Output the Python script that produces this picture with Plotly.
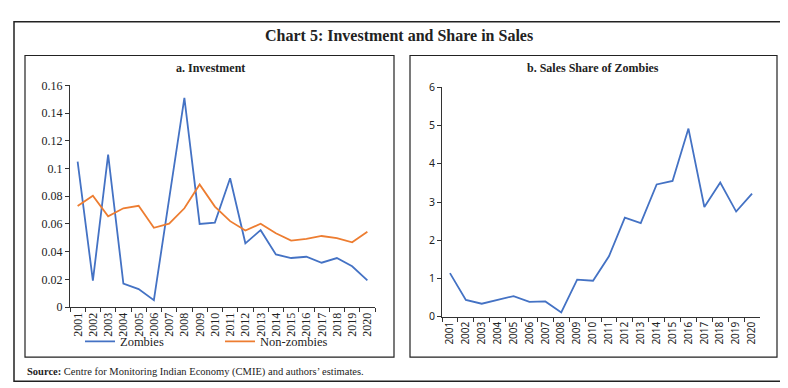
import plotly.graph_objects as go

years = [str(y) for y in range(2001, 2021)]
zombies_inv = [0.105, 0.019, 0.110, 0.017, 0.013, 0.005, 0.078, 0.151, 0.060, 0.061,
               0.093, 0.046, 0.0555, 0.038, 0.0354, 0.0363, 0.032, 0.0354, 0.0294, 0.0193]
nonzombies_inv = [0.0729, 0.0803, 0.0655, 0.0713, 0.0731, 0.0572, 0.0602, 0.0713, 0.0885, 0.0725,
                  0.062, 0.0552, 0.0602, 0.0533, 0.048, 0.0492, 0.0513, 0.0497, 0.0467, 0.0543]
sales_share = [1.14, 0.44, 0.34, 0.45, 0.54, 0.39, 0.40, 0.11, 0.97, 0.94,
               1.58, 2.59, 2.45, 3.46, 3.55, 4.92, 2.87, 3.51, 2.75, 3.22]
left_yticks = [0, 0.02, 0.04, 0.06, 0.08, 0.1, 0.12, 0.14, 0.16]
left_yticktext = ["0", "0.02", "0.04", "0.06", "0.08", "0.1", "0.12", "0.14", "0.16"]
right_yticks = [0, 1, 2, 3, 4, 5, 6]

W, H = 788, 388
def px(x): return x / W
def py(y): return 1 - y / H

BLUE = "#4472C4"
ORANGE = "#ED7D31"
SERIF = "Liberation Serif"
SANS = "Noto Sans"

fig = go.Figure()
fig.add_trace(go.Scatter(x=years, y=zombies_inv, mode="lines", name="Zombies",
                         line=dict(color=BLUE, width=1.8), xaxis="x", yaxis="y"))
fig.add_trace(go.Scatter(x=years, y=nonzombies_inv, mode="lines", name="Non-zombies",
                         line=dict(color=ORANGE, width=1.8), xaxis="x", yaxis="y"))
fig.add_trace(go.Scatter(x=years, y=sales_share, mode="lines", name="Sales share",
                         line=dict(color=BLUE, width=1.8), xaxis="x2", yaxis="y2",
                         showlegend=False))

axis_common = dict(showgrid=False, zeroline=False, showline=True, linecolor="#333",
                   linewidth=1, ticks="outside", tickcolor="#333", ticklen=4)

fig.update_layout(
    width=W, height=H, margin=dict(l=0, r=0, t=0, b=0),
    paper_bgcolor="white", plot_bgcolor="white",
    xaxis=dict(domain=[px(62), px(367)], anchor="y", type="category",
               range=[-0.5, 19.5], tickson="boundaries", tickangle=-90,
               tickfont=dict(family=SERIF, size=12, color="#222"), **axis_common),
    yaxis=dict(domain=[py(303), py(73)], anchor="x", range=[0, 0.16],
               tickvals=left_yticks, ticktext=left_yticktext,
               tickfont=dict(family=SERIF, size=12, color="#222"), **axis_common),
    xaxis2=dict(domain=[px(434), px(752)], anchor="y2", type="category",
                range=[-0.5, 19.5], tickson="boundaries", tickangle=-90,
                tickfont=dict(family=SANS, size=10, color="#222"), **axis_common),
    yaxis2=dict(domain=[py(313), py(75)], anchor="x2", range=[0, 6],
                tickvals=right_yticks,
                tickfont=dict(family=SANS, size=10.5, color="#222"), **axis_common),
    showlegend=True,
    legend=dict(orientation="h", x=px(72), y=py(339), xanchor="left", yanchor="middle",
                entrywidth=95, entrywidthmode="pixels",
                font=dict(family=SERIF, size=12.5, color="#222"),
                bgcolor="rgba(0,0,0,0)"),
)

shapes = [
    dict(type="rect", xref="paper", yref="paper", x0=px(6), x1=px(780), y0=py(380), y1=py(7),
         line=dict(color="#222", width=1.5)),
    dict(type="rect", xref="paper", yref="paper", x0=px(17), x1=px(386), y0=py(355), y1=py(42),
         line=dict(color="#222", width=1.2)),
    dict(type="rect", xref="paper", yref="paper", x0=px(402), x1=px(769), y0=py(355), y1=py(42),
         line=dict(color="#222", width=1.2)),
]
fig.update_layout(shapes=shapes)

annotations = [
    dict(text="<b>Chart 5: Investment and Share in Sales</b>", x=px(391), y=py(21),
         font=dict(family=SERIF, size=16, color="#222"), showarrow=False,
         xref="paper", yref="paper", xanchor="center", yanchor="middle"),
    dict(text="<b>a. Investment</b>", x=px(202), y=py(55),
         font=dict(family=SERIF, size=12, color="#222"), showarrow=False,
         xref="paper", yref="paper", xanchor="center", yanchor="middle"),
    dict(text="<b>b. Sales Share of Zombies</b>", x=px(585), y=py(55),
         font=dict(family=SERIF, size=12, color="#222"), showarrow=False,
         xref="paper", yref="paper", xanchor="center", yanchor="middle"),
    dict(text="<b>Source:</b> Centre for Monitoring Indian Economy (CMIE) and authors’ estimates.",
         x=px(17), y=py(370), font=dict(family=SERIF, size=10.5, color="#222"), showarrow=False,
         xref="paper", yref="paper", xanchor="left", yanchor="middle"),
]
fig.update_layout(annotations=annotations)

fig.write_html("out.html")
